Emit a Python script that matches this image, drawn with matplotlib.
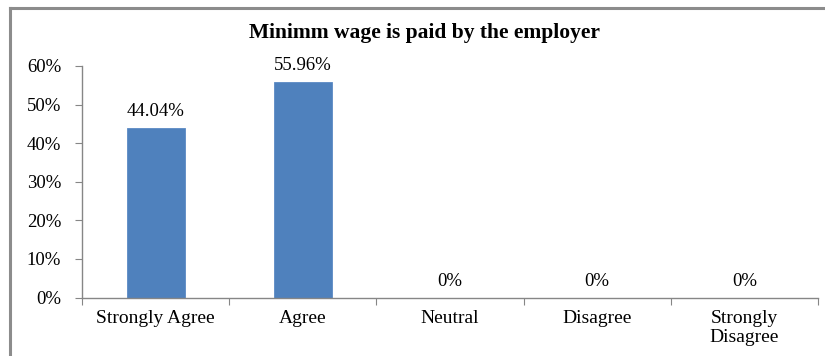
import matplotlib.pyplot as plt
import numpy as np

categories = ['Strongly Agree', 'Agree', 'Neutral', 'Disagree', 'Strongly\nDisagree']
values = [44.04, 55.96, 0, 0, 0]
value_labels = ['44.04%', '55.96%', '0%', '0%', '0%']
yticks = [0, 10, 20, 30, 40, 50, 60]

plt.rcParams['font.family'] = ['Liberation Serif', 'DejaVu Serif']
axis_grey = '#868686'

fig = plt.figure(figsize=(8.25, 3.56), dpi=100)
# outer chart frame (only top and left edges fall inside the image)
fig.add_artist(plt.Line2D([10 / 825, 10 / 825], [0, 1 - 8 / 356], color='#8c8c8c', lw=2.2,
                          transform=fig.transFigure))
fig.add_artist(plt.Line2D([10 / 825, 1], [1 - 8 / 356, 1 - 8 / 356], color='#8c8c8c', lw=2.2,
                          transform=fig.transFigure))

ax = fig.add_axes([82 / 825, 1 - 297.5 / 356, 736 / 825, 231.5 / 356])
x = np.arange(len(categories))
ax.bar(x, values, width=0.395, color='#4F81BD', edgecolor='#5b8ac4', lw=0.6)

for xi, v, lab in zip(x, values, value_labels):
    ax.annotate(lab, (xi, v), xytext=(0, 8.4), textcoords='offset points',
                ha='center', va='baseline', fontsize=13.5)

ax.set_xlim(-0.5, len(categories) - 0.5)
ax.set_ylim(0, 60)
ax.set_yticks(yticks)
ax.set_yticklabels([f'{t}%' for t in yticks], fontsize=13.5)
ax.set_xticks(np.arange(len(categories) + 1) - 0.5)
ax.set_xticklabels([])
ax.set_xticks(x, minor=True)
ax.set_xticklabels(categories, minor=True, fontsize=14, linespacing=1.15, va='top')
ax.tick_params(axis='x', which='minor', length=0, pad=9)
ax.tick_params(axis='x', which='major', length=5, color=axis_grey, direction='out')
ax.tick_params(axis='y', length=5, color=axis_grey, direction='out', pad=10)

for s in ['top', 'right']:
    ax.spines[s].set_visible(False)
for s in ['left', 'bottom']:
    ax.spines[s].set_color(axis_grey)
    ax.spines[s].set_linewidth(1.0)

fig.text(0.514, 1 - 33 / 356, 'Minimm wage is paid by the employer', ha='center', va='center',
         fontsize=15.5, fontweight='bold')

fig.savefig('out.png', dpi=100)
